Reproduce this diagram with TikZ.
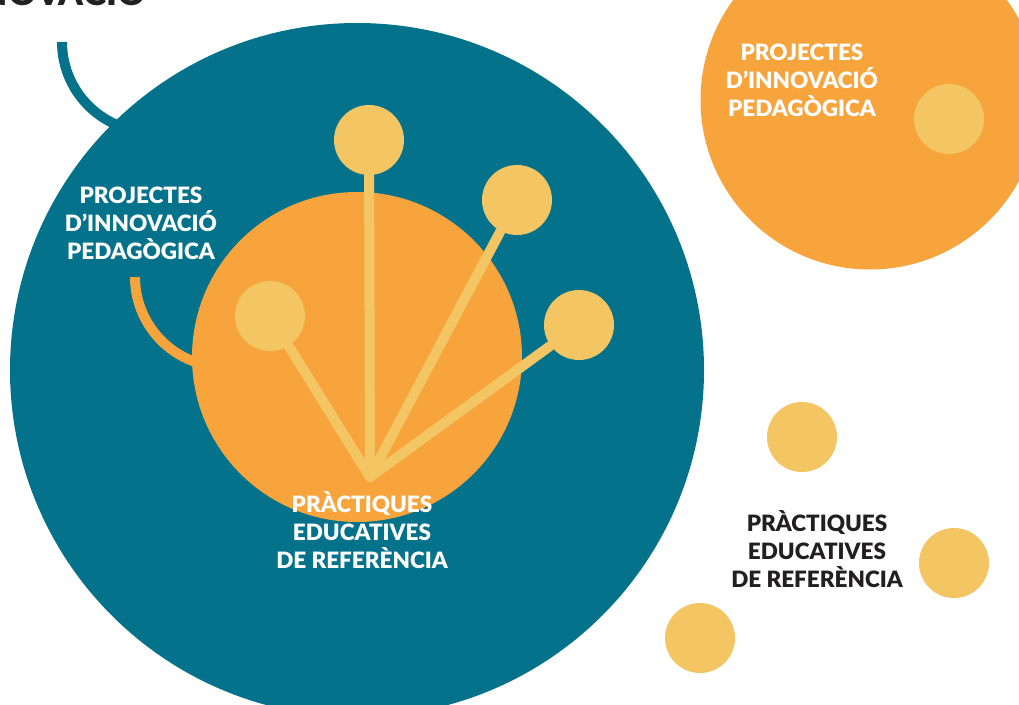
\documentclass[tikz,border=0pt]{standalone}
\usepackage{fontspec}
\setsansfont{Lato}[BoldFont={Lato Black}]
\usepackage{tikz}
\usetikzlibrary{positioning}
\definecolor{pteal}{RGB}{3,114,138}
\definecolor{porange}{RGB}{247,164,61}
\definecolor{pyellow}{RGB}{244,198,99}
\definecolor{pdark}{RGB}{35,31,32}

\begin{document}
\begin{tikzpicture}[
  dot/.style={circle,fill=pyellow,minimum size=0.7cm,inner sep=0pt},
  disc/.style={circle,inner sep=0pt},
  lbl/.style={font=\sffamily\bfseries\fontsize{6.4}{8}\selectfont,align=center,text=white},
  stem/.style={draw=pyellow,line width=0.1cm,line cap=round}]
\useasboundingbox (0,0) rectangle (10.19,-7.04);
\clip (0,0) rectangle (10.19,-7.04);

% title, cut at the top
\node[anchor=base east,font=\sffamily\bfseries\fontsize{10}{12}\selectfont,text=pdark] (title) at (1.58,-0.05) {INNOVACIÓ};

% big teal disc with its hook
\coordinate (hookA) at (0.62,-0.42);
\draw[pteal,line width=0.1cm] (hookA) arc[start angle=180,end angle=255,radius=0.9];
\node[disc,fill=pteal,minimum size=6.94cm] (big) at (3.57,-3.70) {};

% orange disc with its hook
\coordinate (hookB) at (1.35,-2.77);
\draw[porange,line width=0.1cm] (hookB) arc[start angle=180,end angle=260,radius=0.9];
\node[disc,fill=porange,minimum size=3.3cm] (inner) at (3.57,-3.57) {};

% fan
\coordinate (root) at (3.70,-4.77);
\node[dot] (d1) at (3.69,-1.40) {};
\node[dot] (d2) at (5.17,-2.00) {};
\node[dot] (d3) at (5.79,-3.25) {};
\node[dot] (d4) at (2.70,-3.16) {};
\path[stem]
(root) edge (d1)
(root) edge (d2)
(root) edge (d3)
(root) edge (d4);

\node[lbl] (projA) at (1.41,-2.23) {PROJECTES\\D’INNOVACIÓ\\PEDAGÒGICA};
\node[lbl] (pracA) at (3.62,-5.30) {PRÀCTIQUES\\EDUCATIVES\\DE REFERÈNCIA};

% right side
\node[disc,fill=porange,minimum size=3.39cm] (outer) at (8.70,-1.00) {};
\node[dot] (e1) at (9.49,-1.19) {};
\node[lbl] (projB) at (8.02,-0.80) {PROJECTES\\D’INNOVACIÓ\\PEDAGÒGICA};

\node[dot] (f1) at (8.02,-4.37) {};
\node[dot] (f2) at (9.54,-5.63) {};
\node[dot] (f3) at (7.00,-6.38) {};
\node[lbl,text=pdark] (pracB) at (8.17,-5.49) {PRÀCTIQUES\\EDUCATIVES\\DE REFERÈNCIA};
\end{tikzpicture}
\end{document}
